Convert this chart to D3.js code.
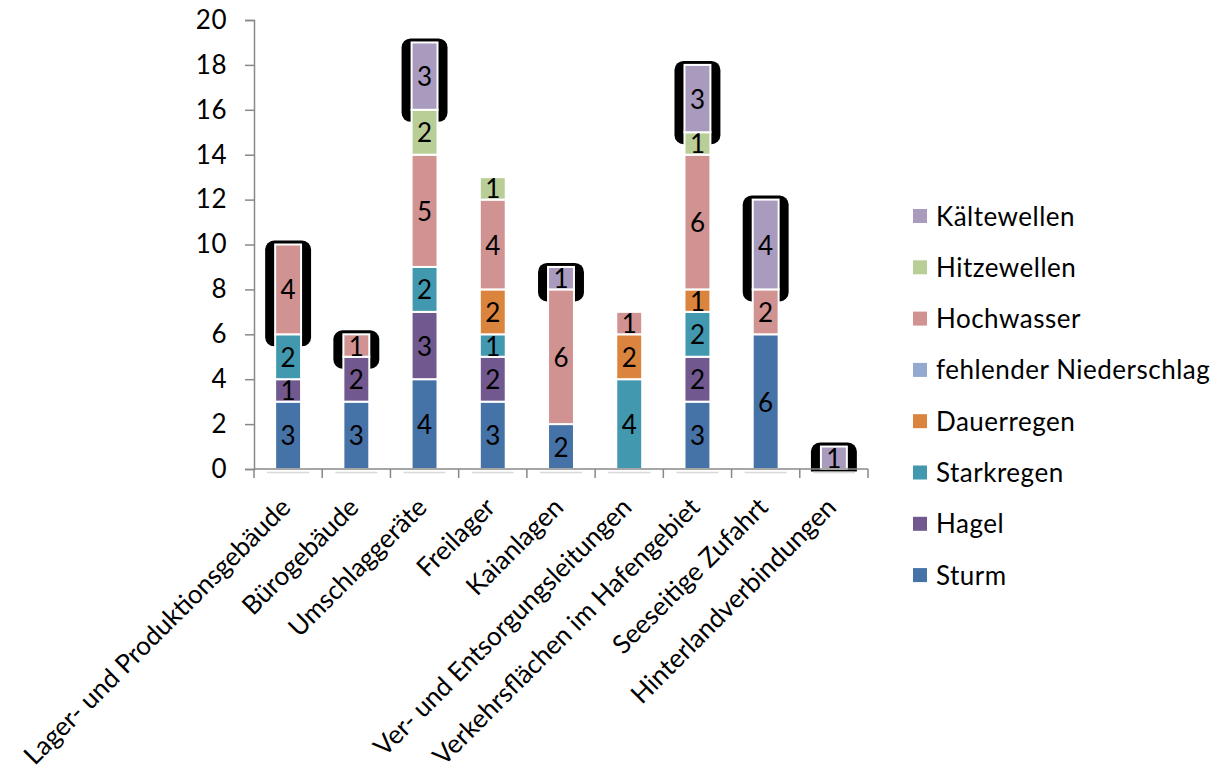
<!DOCTYPE html>
<html>
<head>
<meta charset="utf-8">
<script src="https://cdn.jsdelivr.net/npm/d3@7"></script>
<style>
  html, body { margin: 0; padding: 0; background: #fff; }
  svg { display: block; font-family: Lato, "Noto Sans", sans-serif; }
</style>
</head>
<body>
<svg id="chart" width="1222" height="776"></svg>
<script>
// Objects of the port infrastructure (x-axis categories)
const categories = [
  "Lager- und Produktionsgebäude",
  "Bürogebäude",
  "Umschlaggeräte",
  "Freilager",
  "Kaianlagen",
  "Ver- und Entsorgungsleitungen",
  "Verkehrsflächen im Hafengebiet",
  "Seeseitige Zufahrt",
  "Hinterlandverbindungen"
];

// Climate hazards, stacked from the bottom up
const seriesNames = [
  "Sturm", "Hagel", "Starkregen", "Dauerregen",
  "fehlender Niederschlag", "Hochwasser", "Hitzewellen", "Kältewellen"
];

const sturm                 = [3, 3, 4, 3, 2, 0, 3, 6, 0];
const hagel                 = [1, 2, 3, 2, 0, 0, 2, 0, 0];
const starkregen            = [2, 0, 2, 1, 0, 4, 2, 0, 0];
const dauerregen            = [0, 0, 0, 2, 0, 2, 1, 0, 0];
const fehlenderNiederschlag = [0, 0, 0, 0, 0, 0, 0, 0, 0];
const hochwasser            = [4, 1, 5, 4, 6, 1, 6, 2, 0];
const hitzewellen           = [0, 0, 2, 1, 0, 0, 1, 0, 0];
const kaeltewellen          = [0, 0, 3, 0, 1, 0, 3, 4, 1];

// Hazard marked with a bracket in each category (null = none)
const highlighted = [
  "Hochwasser", "Hochwasser", "Kältewellen", null, "Kältewellen",
  null, "Kältewellen", "Kältewellen", "Kältewellen"
];

const yTicks = [0, 2, 4, 6, 8, 10, 12, 14, 16, 18, 20];

const seriesValues = [sturm, hagel, starkregen, dauerregen,
  fehlenderNiederschlag, hochwasser, hitzewellen, kaeltewellen];

const colors = {
  "Sturm": "#4572A7",
  "Hagel": "#71588F",
  "Starkregen": "#4198AF",
  "Dauerregen": "#DB843D",
  "fehlender Niederschlag": "#93A9CF",
  "Hochwasser": "#D19392",
  "Hitzewellen": "#B9CD96",
  "Kältewellen": "#A99BBD"
};

// table rows for d3.stack
const rows = categories.map((c, i) => {
  const r = { category: c };
  seriesNames.forEach((s, k) => { r[s] = seriesValues[k][i]; });
  return r;
});

const stacked = d3.stack().keys(seriesNames)(rows);

const svg = d3.select("#chart");
const plotLeft = 254, plotRight = 868, plotTop = 20, plotBottom = 469;
const fontSize = 26;
const letterSpacing = 0.5;
const axisColor = "#888888";

const x = d3.scaleBand().domain(categories).range([plotLeft, plotRight]);
const y = d3.scaleLinear().domain([0, 20]).range([plotBottom, plotTop]);
const barW = x.bandwidth() * 0.38;
const barX = c => x(c) + (x.bandwidth() - barW) / 2;

svg.append("defs").append("clipPath").attr("id", "plot")
  .append("rect").attr("x", plotLeft).attr("y", 0)
  .attr("width", plotRight - plotLeft).attr("height", plotBottom + 2.5);

// brackets behind the highlighted segments
const brackets = [];
stacked.forEach(layer => {
  layer.forEach((d, i) => {
    if (highlighted[i] === layer.key && d[1] > d[0]) {
      brackets.push({ c: categories[i], y0: d[0], y1: d[1] });
    }
  });
});

svg.append("g").attr("clip-path", "url(#plot)")
  .selectAll("rect").data(brackets).join("rect")
  .attr("x", d => barX(d.c) - 10)
  .attr("width", barW + 20)
  .attr("y", d => y(d.y1) - 4)
  .attr("height", d => y(d.y0) - y(d.y1) + 16)
  .attr("rx", 9).attr("ry", 9)
  .attr("fill", "#000");

// faint floor strokes under each category
svg.append("g").selectAll("line").data(categories).join("line")
  .attr("x1", c => x(c) + x.bandwidth() / 2 - 21)
  .attr("x2", c => x(c) + x.bandwidth() / 2 + 21)
  .attr("y1", plotBottom + 3.5).attr("y2", plotBottom + 3.5)
  .attr("stroke", "#d9d9d9").attr("stroke-width", 1.5);

// stacked bars
const layers = svg.append("g").selectAll("g").data(stacked).join("g")
  .attr("fill", d => colors[d.key]);

layers.selectAll("rect")
  .data(d => d.map((v, i) => ({ v, c: categories[i] })).filter(e => e.v[1] > e.v[0]))
  .join("rect")
  .attr("x", e => barX(e.c))
  .attr("width", barW)
  .attr("y", e => y(e.v[1]))
  .attr("height", e => y(e.v[0]) - y(e.v[1]))
  .attr("stroke", "#fff")
  .attr("stroke-width", 2);

// value labels
layers.selectAll("text")
  .data(d => d.map((v, i) => ({ v, c: categories[i] })).filter(e => e.v[1] > e.v[0]))
  .join("text")
  .attr("x", e => x(e.c) + x.bandwidth() / 2)
  .attr("y", e => (y(e.v[0]) + y(e.v[1])) / 2 + 10)
  .attr("text-anchor", "middle")
  .attr("fill", "#000")
  .attr("font-size", fontSize)
  .text(e => e.v[1] - e.v[0]);

// y axis
const yAxis = svg.append("g")
  .attr("transform", `translate(${plotLeft},0)`)
  .call(d3.axisLeft(y).tickValues(yTicks).tickSize(9).tickPadding(18).tickFormat(d3.format("d")));
yAxis.select(".domain").attr("stroke", axisColor).attr("stroke-width", 1.5);
yAxis.selectAll(".tick line").attr("stroke", axisColor).attr("stroke-width", 1.5);
yAxis.selectAll(".tick text")
  .attr("font-family", "Lato, 'Noto Sans', sans-serif")
  .attr("font-size", fontSize).attr("letter-spacing", letterSpacing).attr("fill", "#000");

// x axis line and category boundary ticks
const xAxis = svg.append("g");
xAxis.append("line")
  .attr("x1", plotLeft).attr("x2", plotRight).attr("y1", plotBottom).attr("y2", plotBottom)
  .attr("stroke", axisColor).attr("stroke-width", 1.5);
const bounds = categories.map(c => x(c)).concat([plotRight]);
xAxis.selectAll("line.tick").data(bounds).join("line")
  .attr("class", "tick")
  .attr("x1", d => d).attr("x2", d => d)
  .attr("y1", plotBottom).attr("y2", plotBottom + 9)
  .attr("stroke", axisColor).attr("stroke-width", 1.5);

// rotated category labels
xAxis.selectAll("text").data(categories).join("text")
  .attr("transform", c => `translate(${x(c) + x.bandwidth() / 2 + 4},${plotBottom + 40}) rotate(-45)`)
  .attr("text-anchor", "end")
  .attr("font-size", fontSize)
  .attr("fill", "#000")
  .text(c => c);

// legend, top entry first
const legendItems = seriesNames.slice().reverse();
const legend = svg.append("g").selectAll("g").data(legendItems).join("g")
  .attr("transform", (d, i) => `translate(913,${216 + i * 51.3})`);
legend.append("rect")
  .attr("x", 0).attr("y", -7).attr("width", 14).attr("height", 14)
  .attr("fill", d => colors[d]);
legend.append("text")
  .attr("x", 23).attr("y", 9.5)
  .attr("font-size", fontSize).attr("letter-spacing", letterSpacing)
  .attr("fill", "#000")
  .text(d => d);
</script>
</body>
</html>
